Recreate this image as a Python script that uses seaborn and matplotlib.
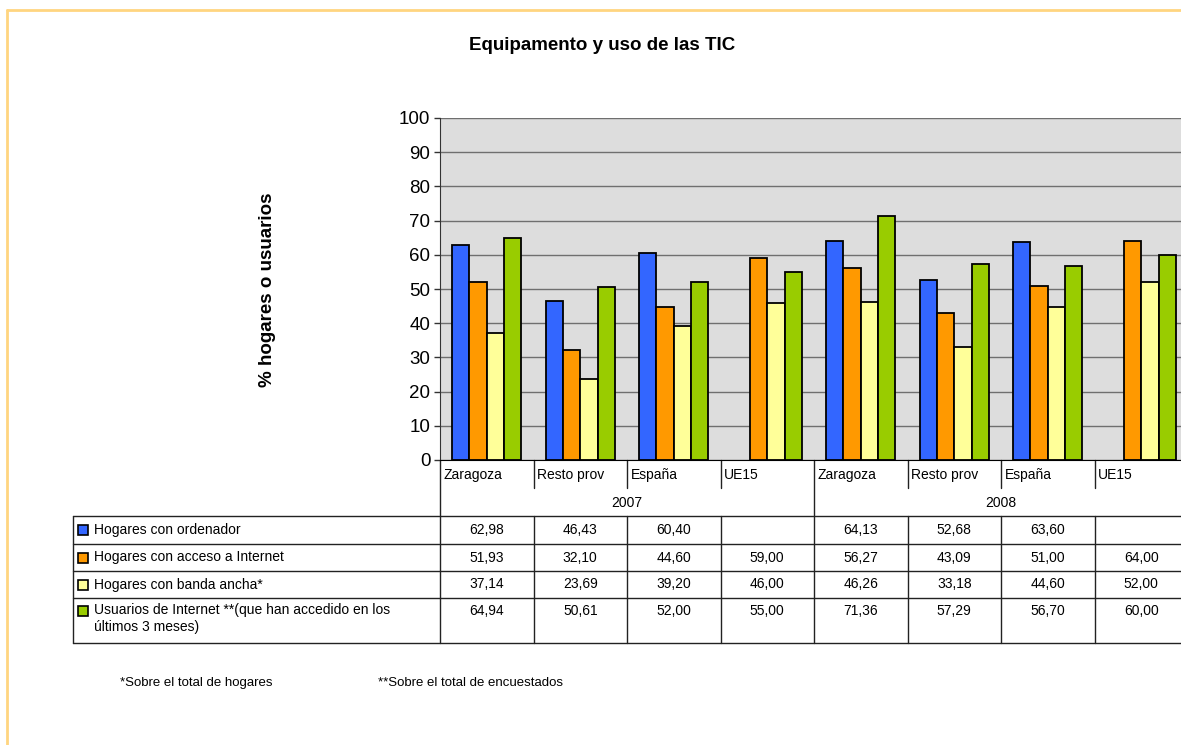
import numpy as np
import pandas as pd
import seaborn as sns
import matplotlib.pyplot as plt
from matplotlib import transforms
from matplotlib.lines import Line2D

years = ["2007", "2008"]
zonas = ["Zaragoza", "Resto prov", "España", "UE15"]
series = [
    "Hogares con ordenador",
    "Hogares con acceso a Internet",
    "Hogares con banda ancha*",
    "Usuarios de Internet **(que han accedido en los\núltimos 3 meses)",
]
ordenador = [62.98, 46.43, 60.40, np.nan, 64.13, 52.68, 63.60, np.nan]
acceso = [51.93, 32.10, 44.60, 59.00, 56.27, 43.09, 51.00, 64.00]
banda = [37.14, 23.69, 39.20, 46.00, 46.26, 33.18, 44.60, 52.00]
usuarios = [64.94, 50.61, 52.00, 55.00, 71.36, 57.29, 56.70, 60.00]
colores = ["#3366FF", "#FF9900", "#FFFF99", "#99CC00"]
notas = ["*Sobre el total de hogares", "**Sobre el total de encuestados"]

W, H = 1181, 745
grupos = [f"{y} {z}" for y in years for z in zonas]
valores = [ordenador, acceso, banda, usuarios]

rows = []
for s, vals in zip(series, valores):
    for g, v in zip(grupos, vals):
        rows.append({"grupo": g, "serie": s, "valor": v})
df = pd.DataFrame(rows)

sns.set_style("white")
plt.rcParams["font.family"] = ["Liberation Sans", "DejaVu Sans"]
plt.rcParams["text.color"] = "black"
plt.rcParams["ytick.color"] = "black"
plt.rcParams["ytick.labelcolor"] = "black"

fig = plt.figure(figsize=(W / 100, H / 100), dpi=100)
fig.patch.set_facecolor("white")

# plot area in pixels: x 440 -> 1188, y 118 -> 460
px_l, px_r, py_t, py_b = 440, 1188, 118, 460
ax = fig.add_axes([px_l / W, 1 - py_b / H, (px_r - px_l) / W, (py_b - py_t) / H])
ax.set_facecolor("#DDDDDD")

sns.barplot(data=df, x="grupo", y="valor", hue="serie", order=grupos,
            hue_order=series, palette=colores, saturation=1, width=0.74, gap=0,
            edgecolor="black", linewidth=1.3, legend=False, ax=ax)

ax.set_xlim(-0.5, len(grupos) - 0.5)
ax.set_ylim(0, 100)
ax.set_yticks(range(0, 101, 10))
ax.yaxis.grid(True, color="#6F6F6F", linewidth=1)
ax.set_axisbelow(True)
ax.set_xlabel("")
ax.set_ylabel("")
ax.tick_params(axis="x", length=0, labelbottom=False)
ax.tick_params(axis="y", length=4, width=1, color="#333333", labelsize=13.5,
               labelcolor="black", pad=3, left=True)
for side in ["top", "right"]:
    ax.spines[side].set_visible(False)
ax.spines["left"].set_color("#333333")
ax.spines["bottom"].set_color("#000000")

fig.text(602 / W, 1 - 45 / H, "Equipamento y uso de las TIC", ha="center",
         va="center", fontsize=13.5, fontweight="bold")
fig.text(268 / W, 1 - 290 / H, "% hogares o usuarios", ha="center", va="center",
         rotation=90, fontsize=13.5, fontweight="bold")

# data table under the axis
tr = transforms.blended_transform_factory(ax.transData, fig.transFigure)
unit = (px_r - px_l) / len(grupos)


def dx(px):
    return -0.5 + (px - px_l) / unit


def fy(py):
    return 1 - py / H


lc = "#222222"
x_left = dx(73)
x_end = len(grupos) - 0.5
for py in [516, 544, 571, 598, 643]:
    ax.add_line(Line2D([x_left, x_end], [fy(py), fy(py)], transform=tr,
                       color=lc, lw=1, clip_on=False))
ax.add_line(Line2D([x_left, x_left], [fy(516), fy(643)], transform=tr,
                   color=lc, lw=1, clip_on=False))
ax.add_line(Line2D([-0.5, -0.5], [fy(460), fy(643)], transform=tr,
                   color=lc, lw=1, clip_on=False))
for i in range(len(grupos)):
    xb = i + 0.5
    if (i + 1) % len(zonas) == 0:
        ax.add_line(Line2D([xb, xb], [fy(460), fy(643)], transform=tr,
                           color=lc, lw=1, clip_on=False))
    else:
        ax.add_line(Line2D([xb, xb], [fy(460), fy(488)], transform=tr,
                           color=lc, lw=1, clip_on=False))
        ax.add_line(Line2D([xb, xb], [fy(516), fy(643)], transform=tr,
                           color=lc, lw=1, clip_on=False))

for i, g in enumerate(grupos):
    ax.text(i - 0.46, fy(475), zonas[i % len(zonas)], transform=tr, ha="left",
            va="center", fontsize=10, clip_on=False)
for k, y in enumerate(years):
    xc = k * len(zonas) + (len(zonas) - 1) / 2
    ax.text(xc, fy(503), y, transform=tr, ha="center", va="center",
            fontsize=10, clip_on=False)

row_y = [530, 557.5, 584.5, 611]
for r, (s, vals, c) in enumerate(zip(series, valores, colores)):
    ax.plot([dx(83)], [fy(row_y[r])], marker="s", ms=7, mfc=c, mec="black",
            mew=1.2, transform=tr, clip_on=False)
    if "\n" in s:
        ax.text(dx(94), fy(row_y[r] - 8), s, transform=tr, ha="left", va="top",
                fontsize=10, linespacing=1.3, clip_on=False)
    else:
        ax.text(dx(94), fy(row_y[r]), s, transform=tr, ha="left",
                va="center", fontsize=10, clip_on=False)
    for i, v in enumerate(vals):
        if np.isnan(v):
            continue
        ax.text(i, fy(row_y[r]), f"{v:.2f}".replace(".", ","), transform=tr,
                ha="center", va="center", fontsize=10, clip_on=False)

fig.text(120 / W, fy(683), notas[0], ha="left", va="center", fontsize=9.5)
fig.text(378 / W, fy(683), notas[1], ha="left", va="center", fontsize=9.5)

# outer frame of the sheet
fig.add_artist(Line2D([7 / W, 1], [fy(10), fy(10)], color="#FFD580", lw=2))
fig.add_artist(Line2D([7 / W, 7 / W], [fy(10), 0], color="#FFD580", lw=2))

fig.savefig("out.png", dpi=100)
